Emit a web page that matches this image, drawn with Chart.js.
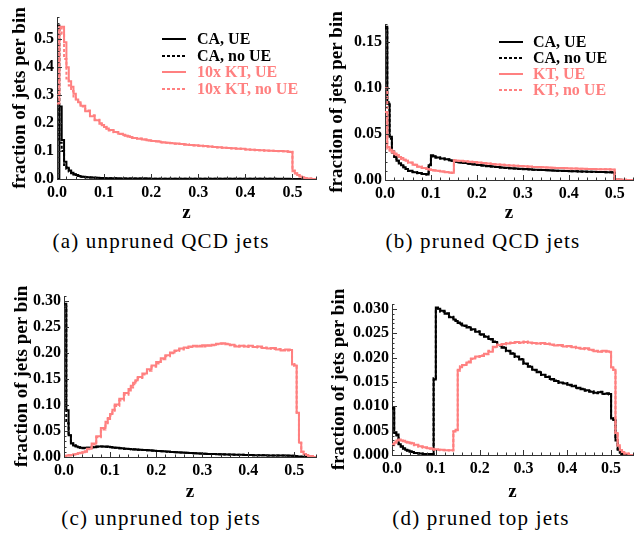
<!DOCTYPE html>
<html lang="en">
<head>
  <meta charset="UTF-8" />
  <title>z distributions of jets</title>
  <script src="https://cdn.jsdelivr.net/npm/chart.js"></script>
  <style>
    body { margin: 0; background: #fff; }
    #fig { position: relative; width: 637px; height: 533px; overflow: hidden; background: #fff; }
    .panel { position: absolute; }
    .caption { position: absolute; transform: translate(-50%, -50%); white-space: nowrap;
               font-family: "Liberation Serif", serif; font-size: 21px; letter-spacing: 1.2px; color: #000; }
    .leg { position: absolute; font-family: "Liberation Serif", serif; font-weight: bold; font-size: 16px;
           line-height: 16px; white-space: nowrap; transform: translateY(-50%); }
    .legline { position: absolute; }
  </style>
</head>
<body>
  <div id="fig">
    <div class="panel" id="boxA" style="left:0px;top:0px;width:320px;height:224px"><canvas id="chartA"></canvas></div>
    <div class="panel" id="boxB" style="left:320px;top:0px;width:317px;height:224px"><canvas id="chartB"></canvas></div>
    <div class="panel" id="boxC" style="left:0px;top:270px;width:320px;height:233px"><canvas id="chartC"></canvas></div>
    <div class="panel" id="boxD" style="left:320px;top:270px;width:317px;height:233px"><canvas id="chartD"></canvas></div>

    <div class="caption" style="left:161px;top:241px">(a) unpruned QCD jets</div>
    <div class="caption" style="left:483px;top:241px">(b) pruned QCD jets</div>
    <div class="caption" style="left:161px;top:518px">(c) unpruned top jets</div>
    <div class="caption" style="left:481px;top:518px">(d) pruned top jets</div>
  </div>

  <script>
    // bin edges in z (finer bins near 0, the 0.1 / 0.15 cuts and the 0.5 edge)
    const zEdges = [
      0, 0.005, 0.01, 0.015, 0.02, 0.025, 0.03, 0.035, 0.04, 0.045, 0.05,
      0.06, 0.07, 0.08, 0.09, 0.095, 0.1, 0.105, 0.11, 0.12, 0.13, 0.14, 0.145, 0.15, 0.155, 0.16,
      0.17, 0.18, 0.19, 0.2, 0.21, 0.22, 0.23, 0.24, 0.25, 0.26, 0.27, 0.28, 0.29, 0.3, 0.31, 0.32,
      0.33, 0.34, 0.35, 0.36, 0.37, 0.38, 0.39, 0.4, 0.41, 0.42, 0.43, 0.44, 0.45, 0.46, 0.47, 0.48, 0.49,
      0.495, 0.5, 0.505, 0.51, 0.515, 0.52, 0.525, 0.53, 0.54, 0.55
    ];

    // (a) unpruned QCD jets
    const aCaUE = [
      0, 0.26, 0.14, 0.062, 0.04, 0.03, 0.022, 0.017, 0.014, 0.011,
      0.0085, 0.0065, 0.005, 0.0042, 0.0036, 0.0033, 0.003, 0.0028, 0.0026, 0.0024, 0.0022, 0.002, 0.0019, 0.0018, 0.0017,
      0.0016, 0.0015, 0.0014, 0.0014, 0.0013, 0.0012, 0.0012, 0.0011, 0.0011, 0.001, 0.001, 0.0009, 0.0009, 0.0009, 0.0008, 0.0008,
      0.0008, 0.0007, 0.0007, 0.0007, 0.0007, 0.0006, 0.0006, 0.0006, 0.0006, 0.0006, 0.0005, 0.0005, 0.0005, 0.0005, 0.0005, 0.0005, 0.0005,
      0.0005, 0.0004, 0.0002, 0.0001, 0.0001, 0, 0, 0, 0, 0
    ];
    const aCaNoUE = [
      0.55, 0.13, 0.10, 0.05, 0.036, 0.027, 0.021, 0.016, 0.013, 0.011,
      0.0085, 0.0066, 0.0052, 0.0043, 0.0037, 0.0033, 0.0031, 0.0029, 0.0027, 0.0024, 0.0022, 0.0021, 0.002, 0.0018, 0.0017,
      0.0016, 0.0015, 0.0015, 0.0013, 0.0013, 0.0012, 0.0011, 0.0011, 0.001, 0.001, 0.001, 0.0009, 0.0009, 0.0008, 0.0008, 0.0008,
      0.0007, 0.0007, 0.0007, 0.0007, 0.0006, 0.0006, 0.0006, 0.0006, 0.0006, 0.0005, 0.0005, 0.0005, 0.0005, 0.0005, 0.0005, 0.0004, 0.0004,
      0.0004, 0.0004, 0.0002, 0.0001, 0.0001, 0, 0, 0, 0, 0
    ];
    const aKtUE = [
      0.27, 0.545, 0.545, 0.49, 0.40, 0.35, 0.33, 0.305, 0.285, 0.275,
      0.262, 0.243, 0.225, 0.21, 0.198, 0.192, 0.186, 0.181, 0.175, 0.168, 0.162, 0.158, 0.155, 0.153, 0.15,
      0.147, 0.144, 0.141, 0.139, 0.136, 0.134, 0.132, 0.130, 0.128, 0.127, 0.125, 0.123, 0.122, 0.121, 0.119, 0.118,
      0.116, 0.115, 0.114, 0.112, 0.111, 0.110, 0.108, 0.108, 0.106, 0.105, 0.104, 0.103, 0.102, 0.101, 0.100, 0.100, 0.099,
      0.098, 0.097, 0.028, 0.02, 0.014, 0.009, 0.006, 0.004, 0.002, 0
    ];
    const aKtNoUE = [
      0.30, 0.54, 0.52, 0.43, 0.36, 0.335, 0.315, 0.295, 0.28, 0.27,
      0.26, 0.245, 0.228, 0.212, 0.2, 0.193, 0.187, 0.18, 0.174, 0.167, 0.161, 0.157, 0.155, 0.152, 0.149,
      0.147, 0.145, 0.141, 0.138, 0.136, 0.135, 0.131, 0.13, 0.129, 0.126, 0.125, 0.124, 0.122, 0.12, 0.119, 0.117,
      0.116, 0.115, 0.113, 0.112, 0.111, 0.109, 0.109, 0.107, 0.106, 0.105, 0.103, 0.103, 0.101, 0.101, 0.1, 0.099, 0.099,
      0.098, 0.098, 0.03, 0.021, 0.014, 0.01, 0.006, 0.004, 0.002, 0
    ];

    // (b) pruned QCD jets
    const bCaUE = [
      0.167, 0.083, 0.047, 0.031, 0.025, 0.021, 0.018, 0.016, 0.014, 0.012,
      0.010, 0.0085, 0.0075, 0.0065, 0.006, 0.016, 0.027, 0.026, 0.0245, 0.0235, 0.0225, 0.0215, 0.021, 0.0205, 0.020,
      0.0192, 0.0185, 0.0178, 0.0170, 0.0163, 0.0157, 0.0152, 0.0147, 0.0142, 0.0137, 0.0133, 0.0129, 0.0125, 0.0122, 0.0119, 0.0116,
      0.0113, 0.0111, 0.0108, 0.0106, 0.0104, 0.0102, 0.0100, 0.0098, 0.0096, 0.0095, 0.0093, 0.0092, 0.0090, 0.0089, 0.0087, 0.0086, 0.0085,
      0.0084, 0.0083, 0.0005, 0.0003, 0.0002, 0.0001, 0, 0, 0, 0
    ];
    const bCaNoUE = [
      0.165, 0.085, 0.045, 0.03, 0.024, 0.021, 0.018, 0.015, 0.014, 0.012,
      0.0098, 0.0086, 0.0074, 0.0066, 0.006, 0.017, 0.026, 0.0255, 0.0245, 0.0234, 0.0224, 0.0216, 0.021, 0.0204, 0.0199,
      0.0191, 0.0184, 0.0177, 0.0171, 0.0164, 0.0157, 0.0151, 0.0146, 0.0141, 0.0137, 0.0132, 0.0128, 0.0125, 0.0121, 0.0118, 0.0115,
      0.0113, 0.011, 0.0108, 0.0105, 0.0103, 0.0101, 0.0099, 0.0098, 0.0096, 0.0094, 0.0093, 0.0091, 0.009, 0.0088, 0.0087, 0.0086, 0.0085,
      0.0084, 0.0082, 0.0004, 0.0003, 0.0002, 0.0001, 0, 0, 0, 0
    ];
    const bKtUE = [
      0.074, 0.036, 0.033, 0.031, 0.029, 0.027, 0.025, 0.024, 0.022, 0.021,
      0.019, 0.0165, 0.0145, 0.013, 0.012, 0.0115, 0.011, 0.0105, 0.010, 0.0093, 0.0085, 0.008, 0.0078, 0.0215, 0.021,
      0.021, 0.0205, 0.020, 0.0195, 0.019, 0.0185, 0.018, 0.0175, 0.017, 0.0166, 0.0162, 0.0158, 0.0155, 0.0152, 0.0149, 0.0146,
      0.0143, 0.0141, 0.0138, 0.0136, 0.0134, 0.0132, 0.013, 0.0128, 0.0126, 0.0125, 0.0123, 0.0122, 0.012, 0.0119, 0.0118, 0.0117, 0.0116,
      0.0115, 0.0114, 0.001, 0.0006, 0.0004, 0.0003, 0.0002, 0.0001, 0, 0
    ];
    const bKtNoUE = [
      0.10, 0.034, 0.032, 0.03, 0.028, 0.027, 0.025, 0.023, 0.022, 0.021,
      0.0188, 0.0166, 0.0146, 0.0131, 0.0121, 0.0114, 0.0109, 0.0104, 0.0099, 0.0092, 0.0086, 0.0081, 0.0077, 0.0213, 0.0209,
      0.0208, 0.0204, 0.0199, 0.0194, 0.0189, 0.0184, 0.018, 0.0174, 0.0169, 0.0166, 0.0161, 0.0158, 0.0154, 0.0151, 0.0149, 0.0145,
      0.0143, 0.014, 0.0138, 0.0135, 0.0133, 0.0131, 0.013, 0.0128, 0.0126, 0.0124, 0.0123, 0.0121, 0.012, 0.0119, 0.0118, 0.0116, 0.0116,
      0.0115, 0.0113, 0.0009, 0.0006, 0.0004, 0.0003, 0.0002, 0.0001, 0, 0
    ];

    // (c) unpruned top jets
    const cCaUE = [
      0.295, 0.09, 0.042, 0.026, 0.022, 0.02, 0.019, 0.018, 0.018, 0.018,
      0.018, 0.019, 0.02, 0.02, 0.02, 0.0195, 0.019, 0.0185, 0.018, 0.017, 0.016, 0.0155, 0.015, 0.0148, 0.0145,
      0.014, 0.0135, 0.013, 0.0122, 0.0115, 0.011, 0.0104, 0.0098, 0.0092, 0.0087, 0.0082, 0.0077, 0.0072, 0.0068, 0.0064, 0.006,
      0.0057, 0.0054, 0.0051, 0.0048, 0.0046, 0.0044, 0.0042, 0.004, 0.0038, 0.0036, 0.0034, 0.0033, 0.0031, 0.003, 0.0029, 0.0028, 0.0027,
      0.0026, 0.0025, 0.0018, 0.0012, 0.0008, 0.0005, 0.0003, 0.0002, 0.0001, 0
    ];
    const cCaNoUE = [
      0.29, 0.065, 0.045, 0.03, 0.023, 0.021, 0.019, 0.018, 0.017, 0.017,
      0.0178, 0.0186, 0.0196, 0.0201, 0.0198, 0.0194, 0.0191, 0.0184, 0.0178, 0.0169, 0.0161, 0.0154, 0.0151, 0.0146, 0.0144,
      0.0139, 0.0134, 0.0128, 0.0123, 0.0116, 0.0109, 0.0103, 0.0097, 0.0093, 0.0086, 0.0081, 0.0076, 0.0073, 0.0067, 0.0063, 0.006,
      0.0056, 0.0053, 0.005, 0.0048, 0.0045, 0.0043, 0.0041, 0.0039, 0.0037, 0.0035, 0.0034, 0.0032, 0.0031, 0.003, 0.0028, 0.0027, 0.0026,
      0.0025, 0.0024, 0.0017, 0.0011, 0.0007, 0.0004, 0.0003, 0.0002, 0.0001, 0
    ];
    const cKtUE = [
      0.002, 0.003, 0.004, 0.004, 0.005, 0.006, 0.007, 0.008, 0.009, 0.011,
      0.016, 0.026, 0.04, 0.056, 0.068, 0.075, 0.083, 0.091, 0.101, 0.112, 0.123, 0.131, 0.137, 0.143, 0.148,
      0.154, 0.161, 0.169, 0.176, 0.183, 0.19, 0.196, 0.201, 0.205, 0.209, 0.211, 0.213, 0.214, 0.213, 0.215, 0.214,
      0.216, 0.218, 0.219, 0.217, 0.216, 0.213, 0.214, 0.213, 0.214, 0.212, 0.213, 0.21, 0.209, 0.21, 0.207, 0.205, 0.207,
      0.206, 0.178, 0.176, 0.085, 0.028, 0.01, 0.006, 0.004, 0.002, 0
    ];
    const cKtNoUE = [
      0.002, 0.002, 0.003, 0.004, 0.005, 0.006, 0.007, 0.007, 0.009, 0.01,
      0.015, 0.024, 0.038, 0.053, 0.065, 0.073, 0.08, 0.089, 0.098, 0.109, 0.12, 0.128, 0.134, 0.14, 0.146,
      0.152, 0.159, 0.166, 0.174, 0.18, 0.188, 0.194, 0.2, 0.204, 0.207, 0.21, 0.212, 0.213, 0.214, 0.213, 0.215,
      0.215, 0.217, 0.218, 0.218, 0.215, 0.214, 0.213, 0.214, 0.212, 0.213, 0.211, 0.211, 0.21, 0.208, 0.208, 0.206, 0.205,
      0.205, 0.179, 0.175, 0.083, 0.027, 0.01, 0.006, 0.004, 0.002, 0
    ];

    // (d) pruned top jets
    const dCaUE = [
      0.0097, 0.0045, 0.0042, 0.0022, 0.0018, 0.0014, 0.0011, 0.0009, 0.0007, 0.0006,
      0.0004, 0.0003, 0.0002, 0.0002, 0.0002, 0.0155, 0.0303, 0.0300, 0.0296, 0.029, 0.0283, 0.0278, 0.0275, 0.0272, 0.027,
      0.0266, 0.0262, 0.0258, 0.0253, 0.0248, 0.0243, 0.0238, 0.0232, 0.0226, 0.022, 0.0214, 0.0208, 0.0202, 0.0196, 0.0188, 0.0181,
      0.0175, 0.017, 0.0165, 0.016, 0.0156, 0.0152, 0.0149, 0.0147, 0.0144, 0.0141, 0.0138, 0.0135, 0.0133, 0.013, 0.0128, 0.0129, 0.0126,
      0.0127, 0.0125, 0.0075, 0.0072, 0.003, 0.0012, 0.0005, 0.0002, 0.0001, 0
    ];
    const dCaNoUE = [
      0.0095, 0.0047, 0.004, 0.0023, 0.0017, 0.0013, 0.001, 0.0008, 0.0007, 0.0005,
      0.0004, 0.0003, 0.0002, 0.0002, 0.0002, 0.0158, 0.0301, 0.0298, 0.0294, 0.0291, 0.0284, 0.0277, 0.0276, 0.0271, 0.0268,
      0.0265, 0.0263, 0.0257, 0.0254, 0.0247, 0.0244, 0.0237, 0.0233, 0.0225, 0.0221, 0.0213, 0.0209, 0.0201, 0.0197, 0.0187, 0.0182,
      0.0174, 0.0171, 0.0164, 0.0161, 0.0155, 0.0153, 0.0148, 0.0148, 0.0143, 0.0142, 0.0137, 0.0136, 0.0132, 0.0131, 0.0127, 0.013, 0.0125,
      0.0126, 0.0124, 0.0078, 0.007, 0.0031, 0.0011, 0.0005, 0.0002, 0.0001, 0
    ];
    const dKtUE = [
      0.002, 0.0025, 0.003, 0.0032, 0.003, 0.0029, 0.0027, 0.0026, 0.0025, 0.0024,
      0.0021, 0.0018, 0.0016, 0.0014, 0.0013, 0.0012, 0.0012, 0.0011, 0.0011, 0.001, 0.001, 0.0048, 0.0052, 0.0175, 0.018,
      0.0185, 0.019, 0.0198, 0.0202, 0.0203, 0.0208, 0.0212, 0.0222, 0.0226, 0.0228, 0.0229, 0.023, 0.0232, 0.0231, 0.0232, 0.0231,
      0.023, 0.0229, 0.023, 0.0228, 0.0227, 0.0225, 0.0226, 0.0223, 0.0224, 0.0221, 0.022, 0.0218, 0.0219, 0.0216, 0.0213, 0.0212, 0.0214,
      0.0213, 0.0212, 0.018, 0.0175, 0.0045, 0.002, 0.001, 0.0006, 0.0003, 0
    ];
    const dKtNoUE = [
      0.0022, 0.0027, 0.0031, 0.0031, 0.0029, 0.0028, 0.0026, 0.0025, 0.0024, 0.0023,
      0.002, 0.0017, 0.0015, 0.0013, 0.0012, 0.0011, 0.0011, 0.0011, 0.001, 0.001, 0.0009, 0.0049, 0.0051, 0.0173, 0.0182,
      0.0184, 0.0192, 0.0197, 0.0201, 0.0205, 0.0207, 0.0214, 0.0221, 0.0227, 0.0227, 0.023, 0.0231, 0.0231, 0.023, 0.0233, 0.023,
      0.0229, 0.023, 0.0228, 0.0229, 0.0226, 0.0226, 0.0224, 0.0224, 0.0222, 0.0222, 0.0219, 0.0219, 0.0217, 0.0215, 0.0214, 0.0213, 0.0212,
      0.0212, 0.0211, 0.0178, 0.0172, 0.0043, 0.0019, 0.001, 0.0006, 0.0003, 0
    ];

    const legendLabelsA = ['CA, UE', 'CA, no UE', '10x KT, UE', '10x KT, no UE'];
    const legendLabelsB = ['CA, UE', 'CA, no UE', 'KT, UE', 'KT, no UE'];
    const yAxisTitle = 'fraction of jets per bin';
    const xAxisTitle = 'z';

    const BLACK = '#000000';
    const PINK = '#ff8080';
    const SERIF = '"Liberation Serif", "Times New Roman", serif';

    // histogram -> stepped line points
    function steps(vals) {
      const pts = vals.map((v, i) => ({ x: zEdges[i], y: v }));
      pts.push({ x: zEdges[vals.length], y: vals[vals.length - 1] });
      return pts;
    }

    function isMajor(v, m) {
      const r = v / m;
      return Math.abs(r - Math.round(r)) < 1e-6;
    }

    // Mathematica-style ticks pointing into the plot
    const inwardTicks = {
      id: 'inwardTicks',
      afterDraw(chart) {
        const { ctx, chartArea, scales } = chart;
        ctx.save();
        ctx.strokeStyle = '#333';
        ctx.lineWidth = 1;
        scales.x.ticks.forEach(t => {
          const px = Math.round(scales.x.getPixelForValue(t.value)) + 0.5;
          const len = t.label ? 5 : 2.5;
          ctx.beginPath();
          ctx.moveTo(px, chartArea.bottom);
          ctx.lineTo(px, chartArea.bottom - len);
          ctx.stroke();
        });
        scales.y.ticks.forEach(t => {
          const py = Math.round(scales.y.getPixelForValue(t.value)) + 0.5;
          const len = t.label ? 5 : 2.5;
          ctx.beginPath();
          ctx.moveTo(chartArea.left, py);
          ctx.lineTo(chartArea.left + len, py);
          ctx.stroke();
        });
        ctx.restore();
      }
    };

    function makePanel(canvasId, p) {
      const ds = (label, vals, color, dashed) => ({
        label: label,
        data: steps(vals),
        borderColor: color,
        borderWidth: 2,
        borderDash: dashed ? [3, 2] : [],
        pointRadius: 0,
        stepped: true,
        fill: false
      });
      // first dataset is drawn on top
      const datasets = [
        ds(p.labels[3], p.series[3], PINK, true),
        ds(p.labels[2], p.series[2], PINK, false),
        ds(p.labels[1], p.series[1], BLACK, true),
        ds(p.labels[0], p.series[0], BLACK, false)
      ];
      const tickFont = { family: SERIF, size: 16, weight: 'bold' };

      return new Chart(document.getElementById(canvasId), {
        type: 'line',
        data: { datasets: datasets },
        options: {
          responsive: true,
          maintainAspectRatio: false,
          animation: false,
          layout: { padding: { top: p.padTop, left: 0, right: 0, bottom: 0 } },
          plugins: { legend: { display: false }, tooltip: { enabled: false } },
          scales: {
            x: {
              type: 'linear',
              min: 0,
              max: p.xMax,
              afterFit: s => { s.height = p.xHeight; },
              border: { display: true, color: '#333', width: 1 },
              grid: { display: false, drawTicks: false },
              ticks: {
                stepSize: 0.02,
                maxTicksLimit: 1000,
                autoSkip: false,
                maxRotation: 0,
                padding: 4,
                color: '#000',
                font: tickFont,
                callback: v => isMajor(v, 0.1) ? v.toFixed(1) : ''
              },
              title: {
                display: true,
                text: xAxisTitle,
                color: '#000',
                font: { family: SERIF, size: 19, weight: 'bold' },
                padding: { top: 0, bottom: 0 }
              }
            },
            y: {
              min: 0,
              max: p.yMax,
              afterFit: s => { s.width = p.yWidth; },
              border: { display: true, color: '#333', width: 1 },
              grid: { display: false, drawTicks: false },
              ticks: {
                stepSize: p.yStep,
                maxTicksLimit: 1000,
                autoSkip: false,
                padding: 3,
                color: '#000',
                font: tickFont,
                callback: v => isMajor(v, p.yMajor) ? v.toFixed(p.yDigits) : ''
              },
              title: {
                display: true,
                text: yAxisTitle,
                color: '#000',
                font: { family: SERIF, size: 19, weight: 'bold' },
                padding: { top: p.titlePad, bottom: 0 }
              }
            }
          }
        },
        plugins: [inwardTicks]
      });
    }

    makePanel('chartA', {
      series: [aCaUE, aCaNoUE, aKtUE, aKtNoUE], labels: legendLabelsA,
      padTop: 17, xHeight: 45, yWidth: 57, titlePad: 9,
      xMax: 0.55, yMax: 0.58, yStep: 0.02, yMajor: 0.1, yDigits: 1
    });
    makePanel('chartB', {
      series: [bCaUE, bCaNoUE, bKtUE, bKtNoUE], labels: legendLabelsB,
      padTop: 24, xHeight: 44, yWidth: 65, titlePad: 6,
      xMax: 0.54, yMax: 0.17, yStep: 0.01, yMajor: 0.05, yDigits: 2
    });
    makePanel('chartC', {
      series: [cCaUE, cCaNoUE, cKtUE, cKtNoUE], labels: legendLabelsA,
      padTop: 26, xHeight: 46, yWidth: 64, titlePad: 11,
      xMax: 0.547, yMax: 0.31, yStep: 0.01, yMajor: 0.05, yDigits: 2
    });
    makePanel('chartD', {
      series: [dCaUE, dCaNoUE, dKtUE, dKtNoUE], labels: legendLabelsB,
      padTop: 34, xHeight: 48, yWidth: 72, titlePad: 8,
      xMax: 0.55, yMax: 0.031, yStep: 0.001, yMajor: 0.005, yDigits: 3
    });

    // legends inside panels (a) and (b)
    function addLegend(labels, lineX, textX, y0, dy) {
      const fig = document.getElementById('fig');
      const colors = [BLACK, BLACK, PINK, PINK];
      labels.forEach((txt, i) => {
        const y = y0 + i * dy;
        const dashed = i % 2 === 1;
        const svg = document.createElementNS('http://www.w3.org/2000/svg', 'svg');
        svg.setAttribute('class', 'legline');
        svg.setAttribute('width', '24');
        svg.setAttribute('height', '4');
        svg.style.left = lineX + 'px';
        svg.style.top = (y - 2) + 'px';
        const ln = document.createElementNS('http://www.w3.org/2000/svg', 'line');
        ln.setAttribute('x1', '0'); ln.setAttribute('x2', '24');
        ln.setAttribute('y1', '2'); ln.setAttribute('y2', '2');
        ln.setAttribute('stroke', colors[i]);
        ln.setAttribute('stroke-width', '2');
        if (dashed) ln.setAttribute('stroke-dasharray', '3 2');
        svg.appendChild(ln);
        fig.appendChild(svg);

        const div = document.createElement('div');
        div.className = 'leg';
        div.style.left = textX + 'px';
        div.style.top = y + 'px';
        div.style.color = colors[i];
        div.textContent = txt;
        fig.appendChild(div);
      });
    }
    addLegend(legendLabelsA, 162, 197, 39, 16.5);
    addLegend(legendLabelsB, 499, 533, 42, 16);
  </script>
</body>
</html>
